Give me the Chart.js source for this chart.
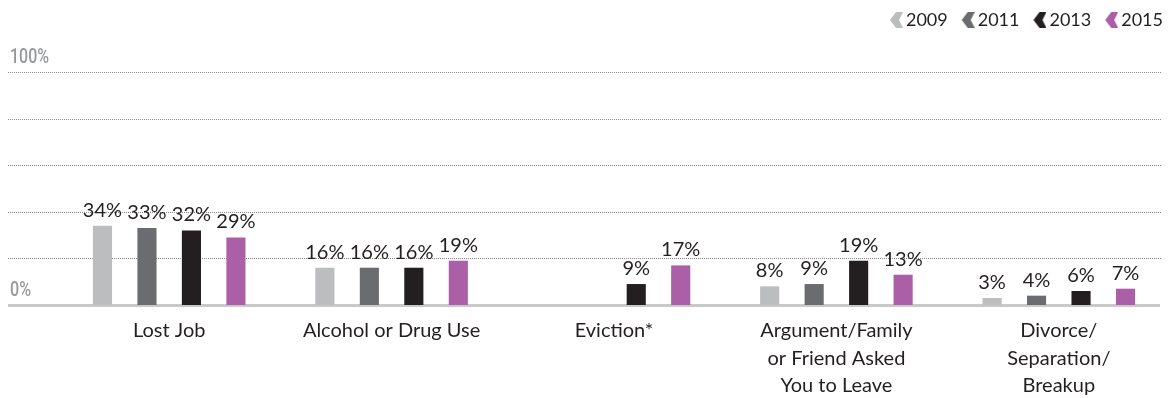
<!DOCTYPE html>
<html lang="en">
<head>
    <meta charset="UTF-8">
    <title>Reasons for Homelessness</title>
    <script src="https://cdn.jsdelivr.net/npm/chart.js"></script>
    <style>
        body { margin: 0; background: #fff; }
        #wrap { width: 1170px; height: 398px; }
    </style>
</head>
<body>
    <div id="wrap"><canvas id="myChart" width="1170" height="398"></canvas></div>
    <script>
        const categories = [
            'Lost Job',
            'Alcohol or Drug Use',
            'Eviction*',
            ['Argument/Family', 'or Friend Asked', 'You to Leave'],
            ['Divorce/', 'Separation/', 'Breakup']
        ];
        const years = ['2009', '2011', '2013', '2015'];
        const values2009 = [34, 16, null, 8, 3];
        const values2011 = [33, 16, null, 9, 4];
        const values2013 = [32, 16, 9, 19, 6];
        const values2015 = [29, 19, 17, 13, 7];
        const yTicks = [0, 20, 40, 60, 80, 100];
        const yTickLabels = { 0: '0%', 100: '100%' };

        const colors = ['#bcbdbf', '#6b6c70', '#231f20', '#ab5fa6'];
        const FONT = 'Lato, "Open Sans", sans-serif';

        // chevron marker, drawn in the right part of a wider image so it sits next to the text
        function chevron(color) {
            const c = document.createElement('canvas');
            c.width = 26; c.height = 16;
            const g = c.getContext('2d');
            g.fillStyle = color;
            g.beginPath();
            g.moveTo(26, 0); g.lineTo(19, 0); g.lineTo(13, 8);
            g.lineTo(19, 16); g.lineTo(26, 16); g.lineTo(22, 8);
            g.closePath();
            g.fill();
            return c;
        }

        const seriesValues = [values2009, values2011, values2013, values2015];
        const datasets = years.map((y, i) => ({
            label: y,
            data: seriesValues[i],
            backgroundColor: colors[i],
            pointStyle: chevron(colors[i]),
            categoryPercentage: 0.8,
            barPercentage: 0.43
        }));

        // dotted grid, thick baseline and the 0% / 100% labels
        const gridPlugin = {
            id: 'grid',
            beforeDatasetsDraw(chart) {
                const { ctx, chartArea, scales } = chart;
                const x0 = chartArea.left - 50, x1 = chartArea.right - 8;
                ctx.save();
                yTicks.forEach(v => {
                    const y = Math.round(scales.y.getPixelForValue(v));
                    if (v === 0) {
                        ctx.strokeStyle = '#c9c9c9';
                        ctx.lineWidth = 3;
                        ctx.setLineDash([]);
                        ctx.beginPath();
                        ctx.moveTo(x0, y + 0.5); ctx.lineTo(x1 - 2, y + 0.5);
                        ctx.stroke();
                    } else {
                        ctx.strokeStyle = '#8a8a8a';
                        ctx.lineWidth = 1;
                        ctx.setLineDash([1, 1]);
                        ctx.beginPath();
                        ctx.moveTo(x0, y + 0.5); ctx.lineTo(x1, y + 0.5);
                        ctx.stroke();
                    }
                    if (yTickLabels[v]) {
                        const txt = yTickLabels[v];
                        ctx.setLineDash([]);
                        ctx.fillStyle = '#98999c';
                        ctx.font = '500 21px Roboto, "DejaVu Sans Condensed", sans-serif';
                        ctx.textAlign = 'left';
                        ctx.textBaseline = 'alphabetic';
                        // condensed look: squeeze to the reference width
                        const w = ctx.measureText(txt).width;
                        const target = txt.length === 4 ? 39 : 21;
                        ctx.save();
                        ctx.translate(x0 + 2, y - 9);
                        ctx.scale(target / w, 1);
                        ctx.fillText(txt, 0, 0);
                        ctx.restore();
                    }
                });
                ctx.restore();
            }
        };

        const valueLabels = {
            id: 'valueLabels',
            afterDatasetsDraw(chart) {
                const { ctx } = chart;
                ctx.save();
                ctx.fillStyle = '#231f20';
                ctx.font = '20px ' + FONT;
                ctx.textAlign = 'center';
                ctx.textBaseline = 'alphabetic';
                chart.data.datasets.forEach((ds, i) => {
                    chart.getDatasetMeta(i).data.forEach((bar, j) => {
                        if (ds.data[j] == null) return;
                        ctx.fillText(ds.data[j] + '%', bar.x, bar.y - 9);
                    });
                });
                ctx.restore();
            }
        };

        const legendHeight = {
            id: 'legendHeight',
            beforeInit(chart) {
                const fit = chart.legend.fit;
                chart.legend.fit = function () {
                    fit.bind(chart.legend)();
                    this.height = 68;
                };
            }
        };

        new Chart(document.getElementById('myChart'), {
            type: 'bar',
            data: { labels: categories, datasets: datasets },
            plugins: [legendHeight, gridPlugin, valueLabels],
            options: {
                responsive: false,
                animation: false,
                layout: { padding: { left: 58, right: 0, top: 4, bottom: 0 } },
                plugins: {
                    legend: {
                        position: 'top',
                        align: 'end',
                        labels: {
                            usePointStyle: true,
                            color: '#231f20',
                            font: { family: FONT, size: 18 },
                            padding: 7,
                            boxWidth: 14
                        }
                    },
                    tooltip: { enabled: false }
                },
                scales: {
                    x: {
                        grid: { display: false },
                        border: { display: false },
                        ticks: {
                            color: '#231f20',
                            font: { family: FONT, size: 20, lineHeight: 1.375 },
                            maxRotation: 0,
                            autoSkip: false,
                            padding: 4
                        },
                        afterFit(scale) { scale.height = 93; }
                    },
                    y: {
                        display: false,
                        min: 0,
                        max: 100
                    }
                }
            }
        });
    </script>
</body>
</html>
